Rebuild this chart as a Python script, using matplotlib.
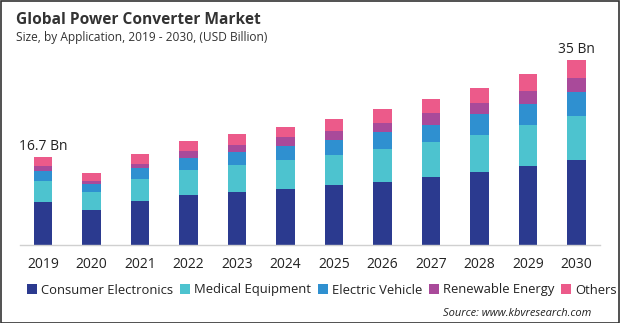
import matplotlib.pyplot as plt
import numpy as np

plt.rcParams['font.family'] = ['Open Sans', 'DejaVu Sans']

years = ['2019', '2020', '2021', '2022', '2023', '2024', '2025', '2026', '2027', '2028', '2029', '2030']
consumer = [8.1, 6.6, 8.3, 9.5, 10.0, 10.6, 11.3, 12.0, 12.8, 13.9, 14.9, 16.0]
medical = [4.0, 3.4, 4.2, 4.7, 5.1, 5.5, 5.7, 6.1, 6.6, 7.0, 7.8, 8.5]
electric = [1.9, 1.6, 2.0, 2.3, 2.5, 2.7, 2.9, 3.2, 3.4, 3.8, 4.0, 4.4]
renewable = [0.9, 0.6, 0.9, 1.3, 1.3, 1.6, 1.7, 1.8, 2.1, 2.1, 2.5, 2.7]
others = [1.8, 1.4, 1.8, 1.9, 2.1, 1.9, 2.2, 2.6, 2.7, 3.0, 3.2, 3.4]
labels = {0: '16.7 Bn', 11: '35 Bn'}

series = [
    ('Consumer Electronics', consumer, '#2b3a8f'),
    ('Medical Equipment', medical, '#4dc3cf'),
    ('Electric Vehicle', electric, '#2f90d0'),
    ('Renewable Energy', renewable, '#a94a9a'),
    ('Others', others, '#ec5a8a'),
]

W, H = 620, 323
fig = plt.figure(figsize=(W / 100, H / 100), dpi=100)
fig.patch.set_facecolor('white')

ax = fig.add_axes([20 / W, (H - 245) / H, 580 / W, 195 / H])
x = np.arange(len(years))
bottom = np.zeros(len(years))
for name, vals, col in series:
    ax.bar(x, vals, 0.39, bottom=bottom, color=col, label=name)
    bottom += np.array(vals)

for i, txt in labels.items():
    ax.text(x[i], bottom[i] + 0.5, txt, ha='center', va='bottom', fontsize=10, color='#222222')

ax.set_xlim(-0.474, 11.485)
ax.set_ylim(0, 36.9)
ax.set_yticks([])
ax.set_xticks(x)
ax.set_xticklabels(years, fontsize=10, color='#222222')
ax.tick_params(axis='x', length=0, pad=9)
for s in ['top', 'right', 'left']:
    ax.spines[s].set_visible(False)
ax.spines['bottom'].set_color('#d0d0d0')
ax.spines['bottom'].set_linewidth(1)

fig.text(16 / W, 1 - 20 / H, 'Global Power Converter Market', fontsize=11.2, fontweight='bold',
         color='#333333', va='center', ha='left')
fig.text(16 / W, 1 - 38 / H, 'Size, by Application, 2019 - 2030, (USD Billion)', fontsize=8.6,
         color='#333333', va='center', ha='left')

handles, lbls = ax.get_legend_handles_labels()
leg = fig.legend(handles, lbls, loc='center', bbox_to_anchor=(322 / W, 1 - 290 / H), ncol=5,
                 frameon=False, fontsize=9.4, handlelength=0.75, handleheight=0.75,
                 handletextpad=0.3, columnspacing=0.55, labelcolor='#222222',
                 borderpad=0, borderaxespad=0)

fig.text(591 / W, 1 - 314 / H, 'Source: www.kbvresearch.com', fontsize=8, style='italic',
         color='#222222', ha='right', va='center')

fig.add_artist(plt.Rectangle((0.5 / W, 0.5 / H), 1 - 1.5 / W, 1 - 1.5 / H, transform=fig.transFigure,
                             fill=False, edgecolor='#333333', linewidth=1.2))

fig.savefig('out.png', dpi=100)
